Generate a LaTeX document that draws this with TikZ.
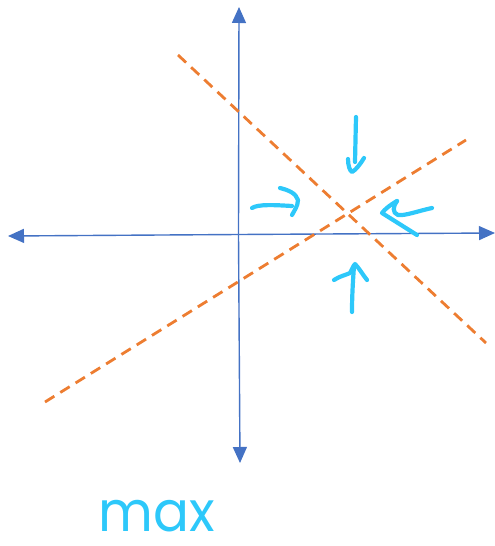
\documentclass[tikz,border=0pt]{standalone}
\usepackage{fontspec}
\newfontfamily\handfont{Poppins}
\usetikzlibrary{arrows.meta}
\definecolor{axisblue}{RGB}{68,114,196}
\definecolor{dashorange}{RGB}{237,125,49}
\definecolor{inkcyan}{RGB}{45,200,250}
\tikzset{
  axisline/.style={axisblue, line width=1.4pt, -{Triangle[length=16pt,width=14pt]}},
  guideline/.style={dashorange, line width=2.8pt, dash pattern=on 11pt off 7pt},
  ink/.style={inkcyan, line width=4.2pt, line cap=round, line join=round},
}
\begin{document}
\begin{tikzpicture}[x=1pt,y=-1pt]
\useasboundingbox (0,0) rectangle (495,546);
% axes
\coordinate (o) at (238.5,234.5);
\coordinate (xl) at (8,236);
\coordinate (xr) at (495,233);
\coordinate (yt) at (239,7);
\coordinate (yb) at (240,463);
\draw[axisline] (o) -- (xr);
\draw[axisline] (o) -- (xl);
\draw[axisline] (o) -- (yt);
\draw[axisline] (o) -- (yb);
% dashed lines
\coordinate (a1) at (178,55);
\coordinate (a2) at (486,343);
\coordinate (b1) at (45,402);
\coordinate (b2) at (466,140);
\draw[guideline] (a1) -- (a2);
\draw[guideline] (b1) -- (b2);
% hand-drawn arrows
% top
\draw[ink] (356,117) -- (355,162);
\draw[ink] (348,159) .. controls (348,166) and (350,171) .. (352,172) .. controls (356,170) and (361,163) .. (364,158);
% bottom
\draw[ink] (352,312) .. controls (352,295) and (353,280) .. (354,266);
\draw[ink] (334,280) .. controls (340,276) and (346,275) .. (350,273) .. controls (352,270) and (353,266) .. (355,264) .. controls (359,268) and (363,275) .. (367,280);
% left
\draw[ink] (252,208) .. controls (258,204) and (275,205) .. (292,206);
\draw[ink] (280,188) .. controls (288,190) and (296,193) .. (298,200) .. controls (298,206) and (294,211) .. (292,215);
% right
\draw[ink] (432,208) .. controls (418,211) and (405,216) .. (398,215) .. controls (392,213) and (393,206) .. (397,201);
\draw[ink] (397,201) .. controls (390,205) and (385,209) .. (382,213) -- (417,235);
% label
\node[inkcyan, inner sep=0pt, anchor=base, xscale=0.95] (lbl) at (157,531) {\handfont\fontsize{56}{56}\selectfont max};
\end{tikzpicture}
\end{document}
